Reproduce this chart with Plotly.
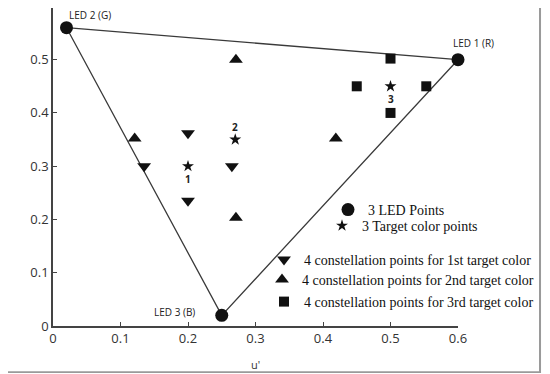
import plotly.graph_objects as go

# LED primaries (u', v')
led_names = ["LED 1 (R)", "LED 2 (G)", "LED 3 (B)"]
led_u = [0.60, 0.02, 0.25]
led_v = [0.50, 0.56, 0.02]

# target colour points
target_labels = ["1", "2", "3"]
target_u = [0.20, 0.27, 0.50]
target_v = [0.30, 0.35, 0.45]

# constellation points
c1_u = [0.20, 0.135, 0.265, 0.20]
c1_v = [0.362, 0.30, 0.30, 0.235]
c2_u = [0.121, 0.271, 0.271, 0.419]
c2_v = [0.352, 0.50, 0.203, 0.352]
c3_u = [0.50, 0.45, 0.553, 0.50]
c3_v = [0.502, 0.45, 0.45, 0.40]

x_ticks = [0, 0.1, 0.2, 0.3, 0.4, 0.5, 0.6]
x_tick_text = ["0", "0.1", "0.2", "0.3", "0.4", "0.5", "0.6"]
y_ticks = [0, 0.1, 0.2, 0.3, 0.4, 0.5]
y_tick_text = ["0", "0.1", "0.2", "0.3", "0.4", "0.5"]

BLACK = "#111111"
OFF = 8  # page body margin
W, H = 550 - OFF, 374 - OFF
fig = go.Figure()

# gamut triangle
fig.add_trace(go.Scatter(
    x=led_u + [led_u[0]], y=led_v + [led_v[0]], mode="lines",
    line=dict(color="#3a3a3a", width=1.3), showlegend=False, hoverinfo="skip",
    cliponaxis=False))

fig.add_trace(go.Scatter(
    x=led_u, y=led_v, mode="markers", name="3 LED Points",
    marker=dict(symbol="circle", size=13, color=BLACK), legend="legend",
    cliponaxis=False))
fig.add_trace(go.Scatter(
    x=target_u, y=target_v, mode="markers", name="3 Target color points",
    marker=dict(symbol="star", size=9, color=BLACK), legend="legend2"))
fig.add_trace(go.Scatter(
    x=c1_u, y=c1_v, mode="markers", name="4 constellation points for 1st target color",
    marker=dict(symbol="triangle-down", size=12, color=BLACK), legend="legend3"))
fig.add_trace(go.Scatter(
    x=c2_u, y=c2_v, mode="markers", name="4 constellation points for 2nd target color",
    marker=dict(symbol="triangle-up", size=12, color=BLACK), legend="legend4"))
fig.add_trace(go.Scatter(
    x=c3_u, y=c3_v, mode="markers", name="4 constellation points for 3rd target color",
    marker=dict(symbol="square", size=10, color=BLACK), legend="legend5"))

# LED labels
led_shift = [(15, 17), (23, 13), (-47, 3)]
for name, u, v, (dx, dy) in zip(led_names, led_u, led_v, led_shift):
    fig.add_annotation(x=u, y=v, text=name, showarrow=False, xshift=dx, yshift=dy,
                       font=dict(family="Open Sans, sans-serif", size=10, color="#222"))

# target labels
tgt_shift = [-13, 13, -13]
for lab, u, v, dy in zip(target_labels, target_u, target_v, tgt_shift):
    fig.add_annotation(x=u, y=v, text="<b>" + lab + "</b>", showarrow=False, yshift=dy,
                       font=dict(family="Open Sans, sans-serif", size=10, color="#222"))

# outer frame (right and bottom edges)
fig.add_shape(type="rect", xref="paper", yref="paper", x0=1.200, x1=1.205, y0=-0.148, y1=1.0,
              fillcolor="#9a9a9a", line=dict(width=0), layer="above")
fig.add_shape(type="rect", xref="paper", yref="paper", x0=-0.13, x1=1.205, y0=-0.148, y1=-0.142,
              fillcolor="#9a9a9a", line=dict(width=0), layer="above")

legend_font = dict(family="Liberation Serif, Times New Roman, serif", size=14, color="#111")


def leg(text_left_px, row_px):
    return dict(x=(text_left_px - OFF - 42) / W, y=1 - (row_px - OFF) / H,
                xref="container", yref="container",
                xanchor="left", yanchor="middle", font=legend_font,
                bgcolor="rgba(0,0,0,0)", itemwidth=30, tracegroupgap=0)


fig.update_layout(
    width=W, height=H,
    margin=dict(l=53 - OFF, r=W - (458 - OFF), t=0, b=H - (326 - OFF), autoexpand=False),
    paper_bgcolor="white", plot_bgcolor="white",
    showlegend=True,
    legend=leg(370, 210),
    legend2=leg(364, 226),
    legend3=leg(306, 260),
    legend4=leg(304, 280),
    legend5=leg(306, 302),
    xaxis=dict(range=[0, 0.6], tickvals=x_ticks, ticktext=x_tick_text,
               showgrid=False, zeroline=False, showline=True, linecolor="#444", linewidth=1.5,
               ticks="inside", ticklen=4, tickcolor="#444",
               tickfont=dict(family="Open Sans, sans-serif", size=13, color="#333"),
               title=dict(text="u'", font=dict(family="Open Sans, sans-serif", size=11, color="#333"),
                          standoff=15)),
    yaxis=dict(range=[0, 0.597], tickvals=y_ticks, ticktext=y_tick_text,
               showgrid=False, zeroline=False, showline=True, linecolor="#444", linewidth=1.5,
               ticks="inside", ticklen=4, tickcolor="#444",
               tickfont=dict(family="Open Sans, sans-serif", size=13, color="#333"),
               title=dict(text="v'", font=dict(family="Open Sans, sans-serif", size=11, color="#333"),
                          standoff=24)),
)

fig.write_html("out.html",
               post_script="document.documentElement.style.overflow='hidden';")
